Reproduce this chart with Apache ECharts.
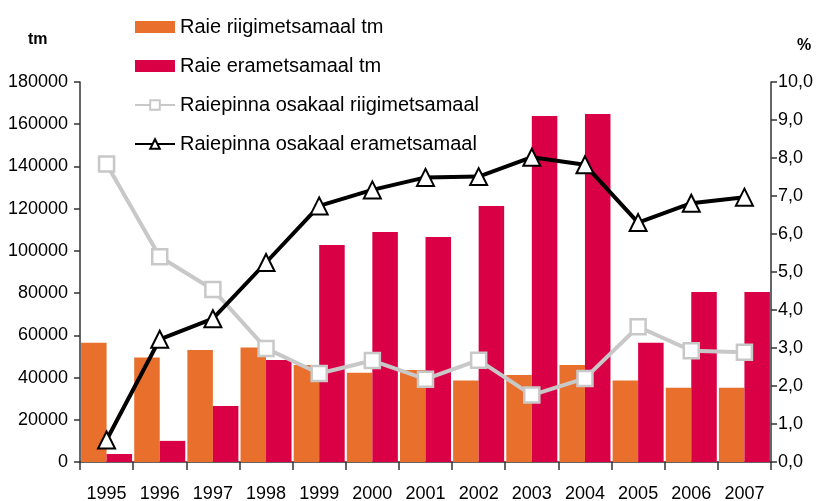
<!DOCTYPE html>
<html>
<head>
<meta charset="utf-8">
<script src="https://cdn.jsdelivr.net/npm/echarts@6/dist/echarts.min.js"></script>
<style>html,body{margin:0;padding:0;background:#fff}#c{width:816px;height:501px}</style>
</head>
<body>
<div id="c"></div>
<script>
const years = ['1995','1996','1997','1998','1999','2000','2001','2002','2003','2004','2005','2006','2007'];
const raieRiigi = [56500, 49500, 53000, 54200, 46000, 42300, 43600, 38600, 41200, 46000, 38600, 35200, 35200];
const raieEra = [3800, 10000, 26500, 48300, 102800, 109000, 106600, 121300, 163900, 164800, 56500, 80500, 80500];
const osakaalRiigi = [7.84, 5.40, 4.54, 2.99, 2.33, 2.67, 2.18, 2.68, 1.76, 2.20, 3.56, 2.93, 2.89];
const osakaalEra = [0.58, 3.23, 3.77, 5.25, 6.74, 7.16, 7.49, 7.51, 8.02, 7.82, 6.30, 6.81, 6.97];
const leftTicks = {min: 0, max: 180000, interval: 20000};
const rightTicks = {min: 0, max: 10, interval: 1};

const FONT = 'Liberation Sans';
const chart = echarts.init(document.getElementById('c'));
chart.setOption({
  animation: false,
  textStyle: {fontFamily: FONT, color: '#000'},
  grid: {left: 80, right: 45, top: 82, bottom: 39, outerBoundsMode: 'none', containLabel: false},
  legend: {
    orient: 'vertical', left: 129, top: 12,
    itemWidth: 40, itemHeight: 12, itemGap: 19,
    textStyle: {fontFamily: FONT, fontSize: 20, color: '#000'},
    data: [
      {name: 'Raie riigimetsamaal tm', icon: 'rect'},
      {name: 'Raie erametsamaal tm', icon: 'rect'},
      'Raiepinna osakaal riigimetsamaal',
      'Raiepinna osakaal erametsamaal'
    ]
  },
  graphic: [
    {type: 'text', left: 28, top: 32, style: {text: 'tm', font: 'bold 16px "' + FONT + '"', fill: '#000'}},
    {type: 'text', left: 797, top: 38, style: {text: '%', font: 'bold 16px "' + FONT + '"', fill: '#000'}}
  ],
  xAxis: {
    type: 'category', data: years, boundaryGap: true,
    axisLine: {lineStyle: {color: '#333', width: 1.5}},
    axisTick: {show: true, length: 8, lineStyle: {color: '#333', width: 1.5}},
    axisLabel: {fontSize: 18, color: '#000', margin: 23, fontFamily: FONT}
  },
  yAxis: [
    {
      type: 'value', min: leftTicks.min, max: leftTicks.max, interval: leftTicks.interval,
      axisLine: {show: true, lineStyle: {color: '#333', width: 1.5}},
      axisTick: {show: true, length: 6, lineStyle: {color: '#333', width: 1.5}},
      axisLabel: {fontSize: 18, color: '#000', margin: 12, fontFamily: FONT, formatter: v => String(v)},
      splitLine: {show: false}
    },
    {
      type: 'value', min: rightTicks.min, max: rightTicks.max, interval: rightTicks.interval, position: 'right',
      axisLine: {show: true, lineStyle: {color: '#333', width: 1.5}},
      axisTick: {show: true, length: 6, lineStyle: {color: '#333', width: 1.5}},
      axisLabel: {fontSize: 18, color: '#000', margin: 7, fontFamily: FONT,
        formatter: v => v.toFixed(1).replace('.', ',')},
      splitLine: {show: false}
    }
  ],
  series: [
    {name: 'Raie riigimetsamaal tm', type: 'bar', data: raieRiigi, yAxisIndex: 0,
      itemStyle: {color: '#E8702C'}, barGap: '0%', barCategoryGap: '4%'},
    {name: 'Raie erametsamaal tm', type: 'bar', data: raieEra, yAxisIndex: 0,
      itemStyle: {color: '#DA0046'}, barGap: '0%', barCategoryGap: '4%'},
    {name: 'Raiepinna osakaal riigimetsamaal', type: 'line', data: osakaalRiigi, yAxisIndex: 1,
      symbol: 'rect', symbolSize: 15, z: 5,
      lineStyle: {color: '#C8C8C8', width: 4},
      itemStyle: {color: '#fff', borderColor: '#C8C8C8', borderWidth: 2.5}},
    {name: 'Raiepinna osakaal erametsamaal', type: 'line', data: osakaalEra, yAxisIndex: 1,
      symbol: 'triangle', symbolSize: 17, z: 6,
      lineStyle: {color: '#000', width: 4},
      itemStyle: {color: '#fff', borderColor: '#000', borderWidth: 2}}
  ]
});
</script>
</body>
</html>
